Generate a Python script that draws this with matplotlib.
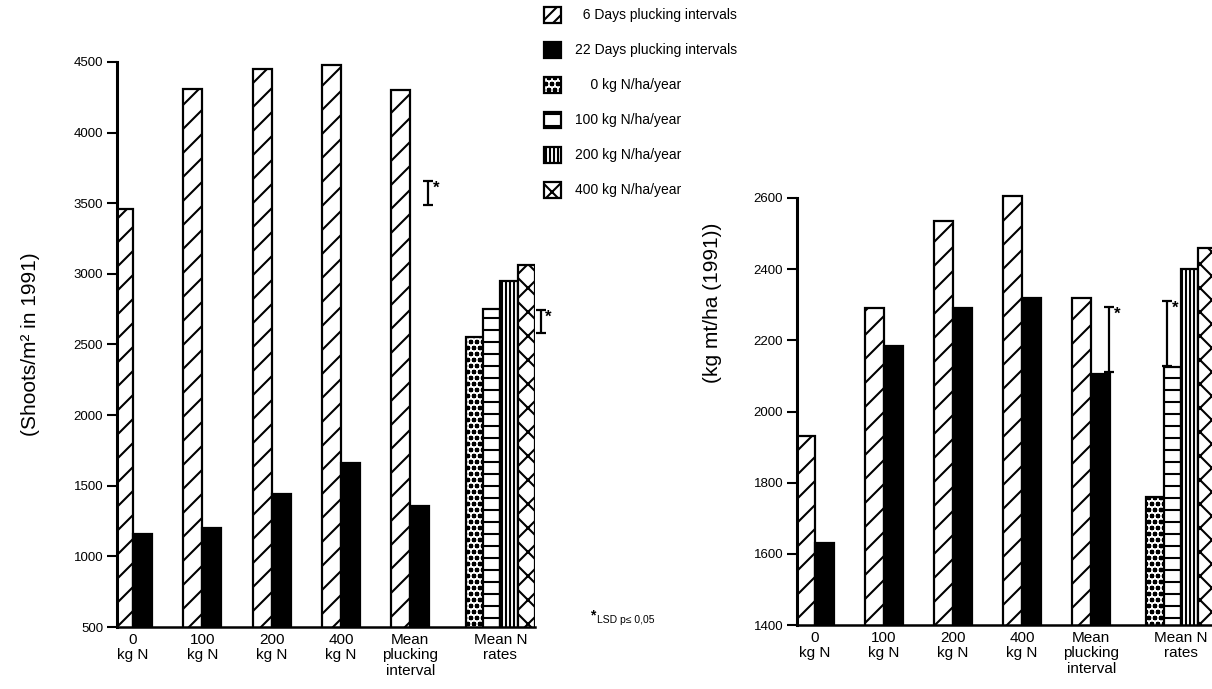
"""
Tea shoots and yield vs. nitrogen rate and plucking interval (1991).
Two bar panels side by side with a shared hatch legend.
"""

import matplotlib
matplotlib.use('Agg')
import matplotlib.pyplot as plt
from matplotlib.patches import Rectangle

# figure is drawn at 72 dpi so hatch spacing matches the scanned original;
# K turns "100 dpi points" into the sizes used here
K = 100 / 72

plt.rcParams['font.family'] = ['Liberation Sans', 'DejaVu Sans']
plt.rcParams['hatch.linewidth'] = 1.5 * K
plt.rcParams['hatch.color'] = 'black'

# ---- data ----
group_labels = ['0\nkg N', '100\nkg N', '200\nkg N', '400\nkg N', 'Mean\nplucking\ninterval']
nrate_label = 'Mean N\nrates'

shoots_6d = [3460, 4310, 4450, 4480, 4300]
shoots_22d = [1160, 1200, 1440, 1660, 1360]
shoots_nrate = [2550, 2750, 2950, 3060]      # 0, 100, 200, 400 kg N
shoots_lsd = [(3490, 3660), (2580, 2745)]    # plucking interval, N rates

yield_6d = [1930, 2290, 2535, 2605, 2320]
yield_22d = [1630, 2185, 2290, 2320, 2105]
yield_nrate = [1760, 2125, 2400, 2460]
yield_lsd = [(2111, 2294), (2128, 2310)]

legend_labels = ['\u20076 Days plucking intervals', '22 Days plucking intervals',
                 '\u2007\u20070 kg N/ha/year', '100 kg N/ha/year', '200 kg N/ha/year',
                 '400 kg N/ha/year']

# ---- styles ----
W, H = 1212, 689
BW = 0.275          # bar width for plucking-interval bars
NW = 0.25           # bar width for N-rate bars
NSTART = 4.80       # left edge of first N-rate bar
LW = 1.6 * K
nrate_hatch = ['oo', '-', '|||', 'x']


def add_panel(left_px, right_px, bottom_px, top_px, ylo, yhi, pad):
    """Axes whose ylo..yhi span bottom_px..top_px, with extra room above yhi."""
    span = bottom_px - top_px
    extra = span * pad / (yhi - ylo)
    ax = fig.add_axes([left_px / W, (H - bottom_px) / H,
                       (right_px - left_px) / W, (span + extra) / H])
    ax.set_ylim(ylo, yhi + pad)
    ax.spines['left'].set_bounds(ylo, yhi)
    return ax


def draw_panel(ax, v6, v22, vn, lsd, yticks, lsd_x):
    x = list(range(len(v6)))
    ax.bar(x, v6, width=-BW, align='edge', color='white',
           edgecolor='black', linewidth=LW, hatch='/')
    ax.bar(x, v22, width=BW, align='edge', color='black',
           edgecolor='black', linewidth=LW)
    xn = [NSTART + i * NW for i in range(len(vn))]
    for xi, v, h in zip(xn, vn, nrate_hatch):
        ax.bar(xi, v, width=NW, align='edge', color='white',
               edgecolor='black', linewidth=LW, hatch=h)

    for (lo, hi), xl in zip(lsd, lsd_x):
        ax.errorbar([xl], [(lo + hi) / 2], yerr=[[(hi - lo) / 2], [(hi - lo) / 2]],
                    fmt='none', ecolor='black', elinewidth=LW, capsize=3.5 * K,
                    capthick=LW, clip_on=False)
        ax.text(xl + 0.07, hi, '*', fontsize=12 * K, fontweight='bold',
                va='top', ha='left', clip_on=False)

    ax.set_yticks(yticks)
    ax.set_xticks(x + [NSTART + 2 * NW])
    ax.set_xticklabels(group_labels + [nrate_label], fontsize=11 * K,
                       linespacing=1.15)
    ax.tick_params(axis='x', length=0, pad=4 * K)
    ax.tick_params(axis='y', length=7 * K, width=1.5 * K, direction='out',
                   labelsize=9.5 * K, pad=3 * K)
    for side in ['top', 'right']:
        ax.spines[side].set_visible(False)
    ax.spines['left'].set_linewidth(2.2 * K)
    ax.spines['bottom'].set_linewidth(1.8 * K)


fig = plt.figure(figsize=(W / 72, H / 72), dpi=72)

# left panel: shoots
ax1 = add_panel(117, 535, 627, 62, 500, 4500, 0)
draw_panel(ax1, shoots_6d, shoots_22d, shoots_nrate, shoots_lsd,
           range(500, 4501, 500), [4.26, 5.88])
ax1.set_xlim(-0.23, 5.8)
ax1.set_ylabel('(Shoots/m² in 1991)', fontsize=15 * K)
ax1.yaxis.set_label_coords(-0.185, 0.5)

# right panel: yield
ax2 = add_panel(797, 1212, 625, 198, 1400, 2600, 40)
draw_panel(ax2, yield_6d, yield_22d, yield_nrate, yield_lsd,
           range(1400, 2601, 200), [4.26, 5.10])
ax2.set_xlim(-0.26, 5.75)
ax2.set_ylabel('(kg mt/ha (1991))', fontsize=15 * K)
ax2.yaxis.set_label_coords(-0.18, 0.73)

# legend drawn by hand: pattern boxes with text next to them
legend_styles = [dict(facecolor='white', hatch='//'),
                 dict(facecolor='black')] + \
                [dict(facecolor='white', hatch=h) for h in nrate_hatch]
for i, (lab, st) in enumerate(zip(legend_labels, legend_styles)):
    yc = 1 - (15 + 35 * i) / H
    fig.add_artist(Rectangle((544 / W, yc - 8 / H), 17 / W, 16 / H,
                             transform=fig.transFigure, edgecolor='black',
                             linewidth=LW, **st))
    fig.text(575 / W, yc, lab, fontsize=10 * K, va='center', ha='left')

# footnote
fig.text(590 / W, 1 - 615 / H, '*', fontsize=10 * K, fontweight='bold',
         va='center', ha='left')
fig.text(597 / W, 1 - 620 / H, 'LSD p≤ 0,05', fontsize=7.5 * K,
         va='center', ha='left')

fig.savefig('out.png', dpi=72)
